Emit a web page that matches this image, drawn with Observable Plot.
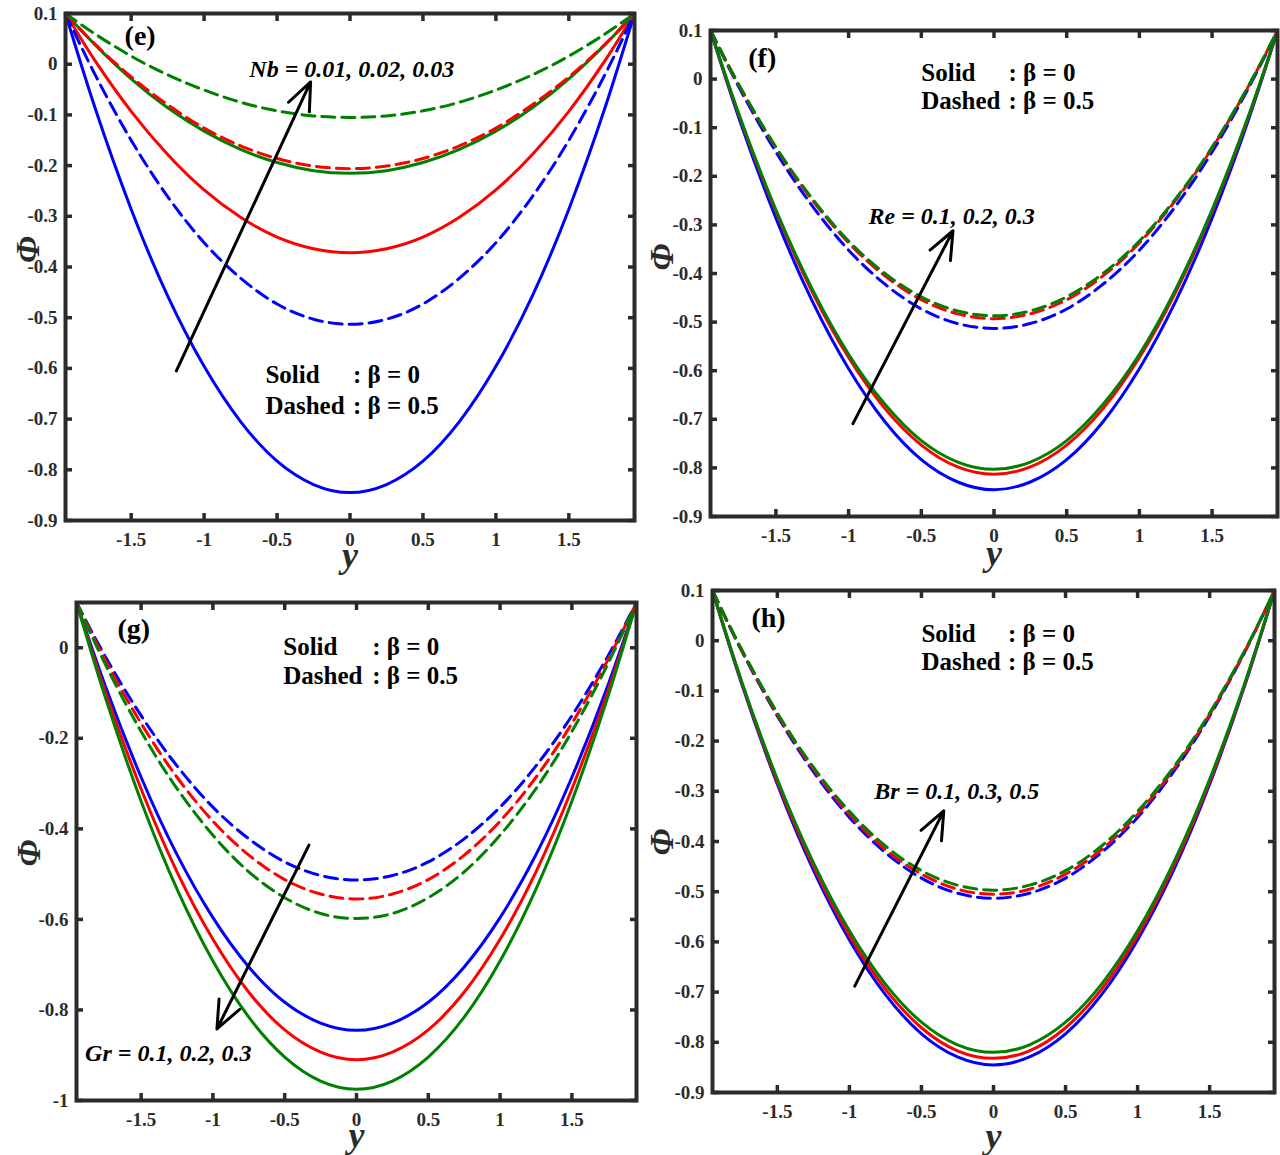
<!DOCTYPE html>
<html><head><meta charset="utf-8">
<script src="https://cdn.jsdelivr.net/npm/d3@7"></script>
<script src="https://cdn.jsdelivr.net/npm/@observablehq/plot@0.6"></script>
<style>
body{margin:0;background:#fff;}
#root{position:relative;width:1280px;height:1155px;background:#fff;overflow:hidden;}
.panel{position:absolute;}
.panel svg{overflow:visible;}
</style></head><body><div id="root"></div>
<script>
// channel coordinate y (horizontal axis)
const yGrid = [-1.95,-1.75,-1.5,-1.25,-1,-0.75,-0.5,-0.25,0,0.25,0.5,0.75,1,1.25,1.5,1.75,1.95];

// base case (blue), shared by all panels
const blueSolid  = [0.1,-0.084,-0.286,-0.457,-0.596,-0.705,-0.783,-0.829,-0.845,-0.829,-0.783,-0.705,-0.596,-0.457,-0.286,-0.084,0.1];
const blueDashed = [0.1,-0.019,-0.150,-0.261,-0.352,-0.422,-0.473,-0.503,-0.513,-0.503,-0.473,-0.422,-0.352,-0.261,-0.150,-0.019,0.1];

// (e) Nb = 0.02 (red), 0.03 (green)
const nbRedSolid    = [0.1,0.008,-0.093,-0.178,-0.248,-0.302,-0.341,-0.364,-0.372,-0.364,-0.341,-0.302,-0.248,-0.178,-0.093,0.008,0.1];
const nbRedDashed   = [0.1,0.040,-0.025,-0.080,-0.126,-0.161,-0.186,-0.201,-0.206,-0.201,-0.186,-0.161,-0.126,-0.080,-0.025,0.040,0.1];
const nbGreenSolid  = [0.1,0.039,-0.029,-0.086,-0.132,-0.168,-0.194,-0.210,-0.215,-0.210,-0.194,-0.168,-0.132,-0.086,-0.029,0.039,0.1];
const nbGreenDashed = [0.1,0.060,0.016,-0.021,-0.051,-0.075,-0.092,-0.102,-0.105,-0.102,-0.092,-0.075,-0.051,-0.021,0.016,0.060,0.1];

// (f) Re = 0.2 (red), 0.3 (green)
const reRedSolid    = [0.1,-0.078,-0.273,-0.438,-0.573,-0.678,-0.753,-0.798,-0.813,-0.798,-0.753,-0.678,-0.573,-0.438,-0.273,-0.078,0.1];
const reGreenSolid  = [0.1,-0.076,-0.269,-0.432,-0.566,-0.669,-0.744,-0.788,-0.803,-0.788,-0.744,-0.669,-0.566,-0.432,-0.269,-0.076,0.1];
const reRedDashed   = [0.1,-0.015,-0.142,-0.249,-0.337,-0.405,-0.454,-0.483,-0.493,-0.483,-0.454,-0.405,-0.337,-0.249,-0.142,-0.015,0.1];
const reGreenDashed = [0.1,-0.014,-0.140,-0.246,-0.333,-0.400,-0.448,-0.477,-0.487,-0.477,-0.448,-0.400,-0.333,-0.246,-0.140,-0.014,0.1];

// (g) Gr = 0.2 (red), 0.3 (green)
const grRedSolid    = [0.1,-0.097,-0.312,-0.495,-0.644,-0.761,-0.844,-0.893,-0.910,-0.893,-0.844,-0.761,-0.644,-0.495,-0.312,-0.097,0.1];
const grGreenSolid  = [0.1,-0.109,-0.339,-0.533,-0.692,-0.816,-0.904,-0.957,-0.975,-0.957,-0.904,-0.816,-0.692,-0.533,-0.339,-0.109,0.1];
const grRedDashed   = [0.1,-0.027,-0.167,-0.286,-0.383,-0.458,-0.512,-0.544,-0.555,-0.544,-0.512,-0.458,-0.383,-0.286,-0.167,-0.027,0.1];
const grGreenDashed = [0.1,-0.036,-0.185,-0.311,-0.414,-0.495,-0.552,-0.587,-0.598,-0.587,-0.552,-0.495,-0.414,-0.311,-0.185,-0.036,0.1];

// (h) Br = 0.3 (red), 0.5 (green)
const brRedSolid    = [0.1,-0.081,-0.281,-0.449,-0.587,-0.694,-0.771,-0.817,-0.832,-0.817,-0.771,-0.694,-0.587,-0.449,-0.281,-0.081,0.1];
const brGreenSolid  = [0.1,-0.079,-0.276,-0.442,-0.578,-0.684,-0.760,-0.805,-0.820,-0.805,-0.760,-0.684,-0.578,-0.442,-0.276,-0.079,0.1];
const brRedDashed   = [0.1,-0.018,-0.147,-0.256,-0.346,-0.416,-0.465,-0.495,-0.505,-0.495,-0.465,-0.416,-0.346,-0.256,-0.147,-0.018,0.1];
const brGreenDashed = [0.1,-0.016,-0.144,-0.252,-0.340,-0.409,-0.458,-0.487,-0.497,-0.487,-0.458,-0.409,-0.340,-0.252,-0.144,-0.016,0.1];

// tick labels
const xTicks = [-1.5,-1,-0.5,0,0.5,1,1.5];
const phiTicks = [0.1,0,-0.1,-0.2,-0.3,-0.4,-0.5,-0.6,-0.7,-0.8,-0.9];
const phiTicksG = [0,-0.2,-0.4,-0.6,-0.8,-1];

// texts
const panelLabels = ["(e)","(f)","(g)","(h)"];
const paramTexts = ["Nb = 0.01, 0.02, 0.03","Re = 0.1, 0.2, 0.3","Gr = 0.1, 0.2, 0.3","Br = 0.1, 0.3, 0.5"];
const legendWords = ["Solid","Dashed"];
const legendValues = [": β = 0",": β = 0.5"];

const BLUE="#0000ff", RED="#ff0000", GREEN="#008000", INK="#2b2b2b";
const FONT = "'Liberation Serif','Times New Roman',serif";

const panels = [
  {left:0,top:0,width:640,height:575,margin:[13,6,55,65],yDomain:[-0.9,0.1],yTicks:phiTicks,
   series:[[blueSolid,BLUE,0],[nbRedSolid,RED,0],[nbGreenSolid,GREEN,0],[blueDashed,BLUE,1],[nbRedDashed,RED,1],[nbGreenDashed,GREEN,1]],
   label:[-1.545,0.055], param:[-0.69,-0.010], legend:[-0.58,0.02,-0.614,-0.674], arrow:[-1.19,-0.605,-0.27,-0.035],
   phiOff:[-37,-4], yOff:46},
  {left:640,top:0,width:640,height:575,margin:[30,3,59,70],yDomain:[-0.9,0.1],yTicks:phiTicks,
   series:[[blueSolid,BLUE,0],[reRedSolid,RED,0],[reGreenSolid,GREEN,0],[blueDashed,BLUE,1],[reRedDashed,RED,1],[reGreenDashed,GREEN,1]],
   label:[-1.69,0.043], param:[-0.863,-0.283], legend:[-0.50,0.10,0.013,-0.045], arrow:[-0.97,-0.709,-0.282,-0.312],
   phiOff:[-48,-3], yOff:48},
  {left:0,top:575,width:640,height:580,margin:[27,4,55,76],yDomain:[-1,0.1],yTicks:phiTicksG,
   series:[[blueSolid,BLUE,0],[grRedSolid,RED,0],[grGreenSolid,GREEN,0],[blueDashed,BLUE,1],[grRedDashed,RED,1],[grGreenDashed,GREEN,1]],
   label:[-1.665,0.042], param:[-1.89,-0.896], legend:[-0.51,0.11,0.002,-0.062], arrow:[-0.331,-0.436,-0.972,-0.842],
   phiOff:[-47,15], yOff:46},
  {left:640,top:575,width:640,height:580,margin:[15,6,63,72],yDomain:[-0.9,0.1],yTicks:phiTicks,
   series:[[blueSolid,BLUE,0],[brRedSolid,RED,0],[brGreenSolid,GREEN,0],[blueDashed,BLUE,1],[brRedDashed,RED,1],[brGreenDashed,GREEN,1]],
   label:[-1.68,0.046], param:[-0.828,-0.30], legend:[-0.50,0.10,0.014,-0.043], arrow:[-0.963,-0.688,-0.345,-0.339],
   phiOff:[-50,14], yOff:55}
];

const root = document.getElementById("root");
panels.forEach((p, idx) => {
  const marks = [];
  for (const [vals, color, dashed] of p.series) {
    const rows = yGrid.map((y, i) => ({y, phi: vals[i]}));
    const opts = {x:"y", y:"phi", stroke:color, strokeWidth:3, curve:"natural"};
    if (dashed) opts.strokeDasharray = "13,7";
    marks.push(Plot.line(rows, opts));
  }
  const tickStyle = {stroke:INK, strokeWidth:3.5};
  const lab = {fontSize:19, fontWeight:"bold", fontFamily:FONT, fill:INK};
  marks.push(Plot.axisX({ticks:xTicks, anchor:"bottom", tickSize:-7, tickPadding:19, tickFormat:d=>String(d), label:null, ...tickStyle, ...lab}));
  marks.push(Plot.axisX({ticks:xTicks, anchor:"top", tickSize:-7, tickFormat:()=>"", label:null, ...tickStyle}));
  marks.push(Plot.axisY({ticks:p.yTicks, anchor:"left", tickSize:-7, tickPadding:15, tickFormat:d=>String(d), label:null, ...tickStyle, ...lab}));
  marks.push(Plot.axisY({ticks:p.yTicks, anchor:"right", tickSize:-7, tickFormat:()=>"", label:null, ...tickStyle}));
  marks.push(Plot.frame({stroke:INK, strokeWidth:4}));
  // arrow
  const a = p.arrow;
  marks.push(Plot.arrow([{x1:a[0],y1:a[1],x2:a[2],y2:a[3]}], {x1:"x1",y1:"y1",x2:"x2",y2:"y2",stroke:"black",strokeWidth:3,headLength:15,headAngle:45}));
  // texts
  marks.push(Plot.text([{x:p.label[0],y:p.label[1],t:panelLabels[idx]}], {x:"x",y:"y",text:"t",textAnchor:"start",fontSize:28,fontWeight:"bold",fontFamily:FONT,fill:"black"}));
  marks.push(Plot.text([{x:p.param[0],y:p.param[1],t:paramTexts[idx]}], {x:"x",y:"y",text:"t",textAnchor:"start",fontSize:24,fontWeight:"bold",fontStyle:"italic",fontFamily:FONT,fill:"black"}));
  const L = p.legend;
  marks.push(Plot.text([{x:L[0],y:L[2],t:legendWords[0]},{x:L[0],y:L[3],t:legendWords[1]}], {x:"x",y:"y",text:"t",textAnchor:"start",fontSize:25,fontWeight:"bold",fontFamily:FONT,fill:"black"}));
  marks.push(Plot.text([{x:L[1],y:L[2],t:legendValues[0]},{x:L[1],y:L[3],t:legendValues[1]}], {x:"x",y:"y",text:"t",textAnchor:"start",fontSize:25,fontWeight:"bold",fontFamily:FONT,fill:"black"}));
  // axis titles
  marks.push(Plot.text(["y"], {text:d=>d, frameAnchor:"bottom", dy:p.yOff, fontSize:36, fontWeight:"bold", fontStyle:"italic", fontFamily:FONT, fill:INK}));
  marks.push(Plot.text(["Φ"], {text:d=>d, frameAnchor:"left", dx:p.phiOff[0], dy:p.phiOff[1], rotate:-90, fontSize:34, fontWeight:"bold", fontStyle:"italic", fontFamily:FONT, fill:INK}));

  const svg = Plot.plot({
    width:p.width, height:p.height,
    marginTop:p.margin[0], marginRight:p.margin[1], marginBottom:p.margin[2], marginLeft:p.margin[3],
    x:{domain:[-1.95,1.95]},
    y:{domain:p.yDomain},
    style:{fontFamily:FONT, fontSize:"19px", fontWeight:"bold", color:INK, background:"transparent", overflow:"visible"},
    marks
  });
  const div = document.createElement("div");
  div.className = "panel";
  div.style.left = p.left + "px";
  div.style.top = p.top + "px";
  div.appendChild(svg);
  root.appendChild(div);
});
</script>
</body></html>
